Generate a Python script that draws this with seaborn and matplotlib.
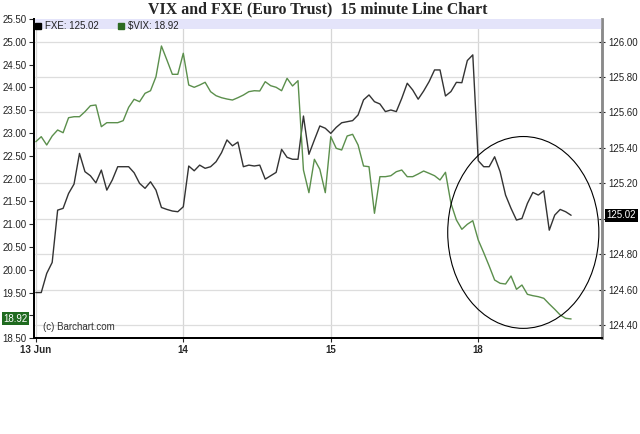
import matplotlib
matplotlib.use("Agg")
import matplotlib.pyplot as plt
from matplotlib.lines import Line2D
from matplotlib.patches import Ellipse, Rectangle
import seaborn as sns
import numpy as np

# 15 minute bars, 27 per session (9:30 .. 16:00)
days = ["13 Jun", "14", "15", "18"]
bars_per_day = 27

fxe = [124.584, 124.584, 124.692, 124.754, 125.049, 125.059, 125.143, 125.196, 125.369, 125.266,
       125.243, 125.203, 125.275, 125.162, 125.219, 125.294, 125.294, 125.294, 125.260, 125.200,
       125.172, 125.209, 125.162, 125.064, 125.053, 125.044, 125.040, 125.068, 125.298, 125.271,
       125.303, 125.285, 125.294, 125.322, 125.373, 125.445, 125.412, 125.433, 125.294, 125.303,
       125.298, 125.303, 125.224, 125.243, 125.262, 125.392, 125.347, 125.336, 125.336, 125.580,
       125.364, 125.445, 125.524, 125.511, 125.482, 125.516, 125.542, 125.548, 125.554, 125.586,
       125.671, 125.699, 125.661, 125.648, 125.605, 125.614, 125.605, 125.680, 125.765, 125.727,
       125.675, 125.721, 125.774, 125.840, 125.840, 125.693, 125.718, 125.770, 125.768, 125.893,
       125.925, 125.328, 125.294, 125.294, 125.350, 125.266, 125.134, 125.059, 124.993, 125.002,
       125.087, 125.149, 125.134, 125.158, 124.936, 125.021, 125.053, 125.040, 125.020]

vix = [22.807, 22.917, 22.735, 22.932, 23.064, 23.004, 23.333, 23.355, 23.355, 23.465,
       23.596, 23.612, 23.136, 23.224, 23.224, 23.224, 23.268, 23.561, 23.737, 23.684,
       23.868, 23.925, 24.232, 24.906, 24.599, 24.285, 24.285, 24.746, 24.050, 24.000,
       24.050, 24.110, 23.904, 23.816, 23.772, 23.743, 23.721, 23.772, 23.830, 23.904,
       23.925, 23.919, 24.123, 24.035, 24.000, 23.925, 24.197, 24.029, 24.145, 22.186,
       21.689, 22.421, 22.202, 21.689, 22.917, 22.662, 22.625, 22.932, 22.969, 22.735,
       22.274, 22.259, 21.237, 22.040, 22.040, 22.061, 22.149, 22.186, 22.040, 22.040,
       22.099, 22.164, 22.114, 22.061, 21.967, 22.136, 21.456, 21.090, 20.886, 20.996,
       21.075, 20.651, 20.373, 20.081, 19.774, 19.702, 19.686, 19.862, 19.570, 19.664,
       19.460, 19.430, 19.408, 19.373, 19.248, 19.132, 19.007, 18.934, 18.920]

fxe_last = 125.02
vix_last = 18.92

bars = np.arange(len(fxe))
fxe_ticks = np.arange(124.40, 126.01, 0.20)
vix_ticks = np.arange(18.50, 25.51, 0.50)

sns.set_style("white")
plt.rcParams["font.family"] = ["Liberation Sans", "DejaVu Sans"]

black = "#333333"
green = "#5b8f4c"

fig = plt.figure(figsize=(6.4, 4.34), dpi=100)
ax = fig.add_axes([33.5 / 640, 1 - 338.1 / 434, (601.7 - 33.5) / 640, (338.1 - 18.9) / 434])
axl = ax.twinx()

# FXE on the right scale
sns.lineplot(x=bars, y=fxe, ax=ax, color=black, linewidth=1.0)
ax.set_ylim(124.327, 126.128)
ax.yaxis.tick_right()
ax.set_yticks(fxe_ticks)
ax.set_yticklabels(["" if abs(t - 125.0) < 1e-6 else f"{t:.2f}" for t in fxe_ticks])
ax.tick_params(axis="y", direction="inout", length=5, width=0.8, labelsize=7,
               labelcolor="#222222", pad=2, right=True, left=False)
ax.grid(axis="y", color="#dddddd", linewidth=0.9)

ax.set_xlim(-0.42, 103.6)
ax.set_xticks(np.arange(len(days)) * bars_per_day)
ax.set_xticklabels(days, fontweight="bold", fontsize=7)
ax.tick_params(axis="x", direction="out", length=3, width=0.8, pad=2, bottom=True)
ax.grid(axis="x", color="#d6d6d6", linewidth=0.9)
ax.set_xlabel("")
ax.set_ylabel("")

# VIX on the left scale
sns.lineplot(x=bars, y=vix, ax=axl, color=green, linewidth=1.0)
axl.set_ylim(18.5, 25.5)
axl.yaxis.tick_left()
axl.set_yticks(vix_ticks)
axl.set_yticklabels(["" if abs(t - 19.0) < 1e-6 else f"{t:.2f}" for t in vix_ticks])
axl.tick_params(axis="y", direction="out", length=3.5, width=0.8, labelsize=7,
                labelcolor="#222222", pad=1.5, left=True, right=False)
axl.set_ylabel("")

for a in (ax, axl):
    a.spines["top"].set_visible(False)
    a.spines["left"].set_color("black")
    a.spines["left"].set_linewidth(1.4)
    a.spines["bottom"].set_color("black")
    a.spines["bottom"].set_linewidth(1.4)
    a.spines["right"].set_color("#8a8a8a")
    a.spines["right"].set_linewidth(1.8)

# legend band
axl.add_patch(Rectangle((0, 0.9674), 1, 0.0326, transform=ax.transAxes,
                        facecolor="#e4e4fa", edgecolor="none", zorder=1))
handles = [Line2D([], [], marker="s", linestyle="", color="black", markersize=4.5),
           Line2D([], [], marker="s", linestyle="", color="#2d6b22", markersize=4.5)]
axl.legend(handles, [f"FXE: {fxe_last:.2f}", f"$VIX: {vix_last:.2f}"],
           loc="upper left", bbox_to_anchor=(-0.008, 1.012), ncol=2, frameon=False,
           fontsize=7, handlelength=0.7, handletextpad=0.4, columnspacing=1.9,
           borderaxespad=0.2, labelcolor="#222222")

# last value markers on the scales
axl.annotate(f"{vix_last:.2f}", xy=(0, vix_last), xycoords=("axes fraction", "data"),
             xytext=(-4, 0), textcoords="offset points", ha="right", va="center",
             fontsize=7, color="white",
             bbox=dict(boxstyle="square,pad=0.15", fc="#1f6a1f", ec="none"))
ax.annotate(f"{fxe_last:.2f}", xy=(1, fxe_last), xycoords=("axes fraction", "data"),
            xytext=(3.5, 0), textcoords="offset points", ha="left", va="center",
            fontsize=7, color="white",
            bbox=dict(boxstyle="square,pad=0.15", fc="black", ec="none"),
            annotation_clip=False)

axl.text(0.017, 0.036, "(c) Barchart.com", transform=ax.transAxes, fontsize=7,
         color="#333333", va="center")

# hand drawn circle around the last session
axl.add_patch(Ellipse((0.862, 0.331), 0.266, 0.601, transform=ax.transAxes,
                      fill=False, edgecolor="black", linewidth=0.8, zorder=5))

fig.text(0.496, 1 - 9.5 / 434, "VIX and FXE (Euro Trust)  15 minute Line Chart",
         ha="center", va="center", fontsize=11.4, fontweight="bold",
         family=["Liberation Serif", "DejaVu Serif"])

fig.savefig("out.png", dpi=100)
